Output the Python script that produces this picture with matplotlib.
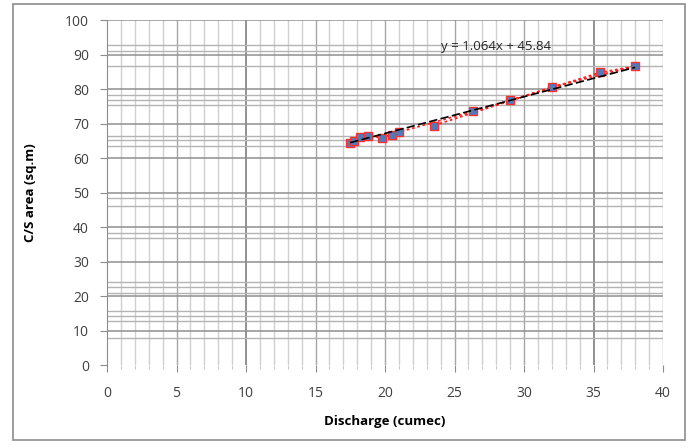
import matplotlib
matplotlib.use("Agg")
import numpy as np
from matplotlib import pyplot as plt
from matplotlib.patches import Rectangle

# discharge (cumec) and cross-section area (sq.m), in recorded order
discharge = [17.5, 17.8, 18.2, 18.8, 19.8, 20.5, 21.0, 26.3, 29.0, 35.5, 38.0, 32.0, 23.5]
cs_area = [64.3, 65.0, 66.0, 66.4, 65.9, 66.8, 67.5, 73.5, 76.7, 84.8, 86.6, 80.5, 69.4]

# trendline coefficients
slope = 1.064
intercept = 45.84

# irregular minor horizontal rulings seen on the sheet
y_minor = [7.8, 12.7, 14.2, 15.7, 21.0, 22.5, 24.0, 36.7, 38.2, 46.0, 48.4,
           63.6, 65.1, 66.5, 75.3, 76.8, 78.3, 86.6, 91.0, 92.7]

fig = plt.figure(figsize=(6.93, 4.48), dpi=100)
fig.patches.append(Rectangle((13 / 693, 1 - 440 / 448), 672 / 693, 436 / 448,
                             transform=fig.transFigure, fill=False,
                             edgecolor="#8c8c8c", linewidth=1.2))
ax = fig.add_axes([107 / 693, 1 - 365 / 448, 556 / 693, 345 / 448])

ax.set_xlim(0, 40)
ax.set_ylim(0, 100)

# grid
for xv in range(1, 41):
    if xv in (10, 35):
        col, lw = "#7f7f7f", 1.2
    elif xv % 5 == 0:
        col, lw = "#a6a6a6", 1.0
    else:
        col, lw = "#d0d0d0", 1.0
    ax.axvline(xv, color=col, linewidth=lw, zorder=0)
for yv in y_minor:
    ax.axhline(yv, color="#b4b4b4", linewidth=1.0, zorder=0)
for yv in range(10, 101, 10):
    ax.axhline(yv, color="#8f8f8f", linewidth=1.1, zorder=0)

# data with dotted red connector
ax.plot(discharge, cs_area, linestyle=(0, (1.5, 1.5)), color="#ff2020",
        linewidth=1.3, marker="s", markersize=5.5, markerfacecolor="#4f7bbd",
        markeredgecolor="#ff3030", markeredgewidth=1.0, zorder=3)

# linear trendline
xt = np.array([min(discharge), max(discharge)])
ax.plot(xt, slope * xt + intercept, color="black", linestyle=(0, (5, 2)),
        linewidth=1.2, zorder=4)
ax.text(28.0, 92.2, "y = 1.064x + 45.84", ha="center", va="center",
        fontsize=9.5, color="#262626", family="Open Sans")

ax.set_xticks(range(0, 41, 5))
ax.set_xticks(range(0, 41), minor=True)
ax.set_yticks(range(0, 101, 10))
ax.tick_params(axis="both", which="major", labelsize=10, labelcolor="#404040",
               color="#8c8c8c", length=5, pad=8)
ax.tick_params(axis="x", which="minor", color="#bfbfbf", length=3)
ax.tick_params(axis="x", which="major", pad=10)
for lab in ax.get_xticklabels() + ax.get_yticklabels():
    lab.set_family("Open Sans")

for side in ("top", "right", "bottom"):
    ax.spines[side].set_visible(False)
ax.spines["left"].set_color("#8c8c8c")

ax.set_xlabel("Discharge (cumec)", fontsize=9.5, fontweight="bold",
              family="Open Sans", labelpad=10)
ax.set_ylabel("C/S area (sq.m)", fontsize=9.5, fontweight="bold",
              family="Open Sans", labelpad=20)

fig.savefig("out.png", dpi=100)
